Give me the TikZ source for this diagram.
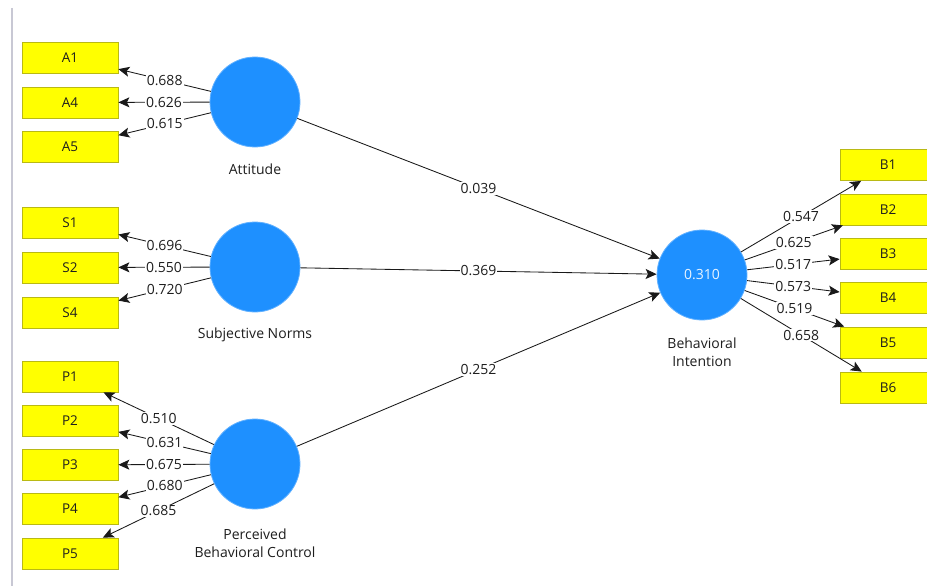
\documentclass[tikz,border=0pt]{standalone}
\usepackage{fontspec}
\setmainfont{Open Sans}
\usetikzlibrary{arrows.meta}
\definecolor{lvblue}{RGB}{30,144,255}
\definecolor{ind}{RGB}{255,255,0}
\definecolor{indborder}{RGB}{185,185,20}
\definecolor{txt}{RGB}{30,30,30}
\definecolor{edge}{RGB}{25,25,25}
\definecolor{sideline}{RGB}{200,200,212}
\begin{document}
\begin{tikzpicture}[x=1pt,y=-1pt,
  indbox/.style={draw=indborder,fill=ind,line width=0.8pt,minimum width=96pt,minimum height=31pt,inner sep=0pt,text=txt,font=\fontsize{13.5}{15}\selectfont},
  latent/.style={circle,fill=lvblue,draw=lvblue!70!white,line width=0.8pt,minimum size=90pt,inner sep=0pt,text=white!90!lvblue,font=\fontsize{14}{15}\selectfont},
  lvlabel/.style={text=txt,font=\fontsize{14}{18}\selectfont,align=center,inner sep=0pt},
  path/.style={draw=edge,line width=0.85pt,-{Stealth[length=11pt,width=10pt,inset=2.5pt]}},
  coef/.style={midway,fill=white,inner sep=1pt,text=txt,font=\fontsize{14}{15}\selectfont}
]
\useasboundingbox (0,0) rectangle (927,586);
\fill[white] (0,0) rectangle (927,586);
\draw[sideline,line width=2pt] (12,8) -- (12,586);

% indicators left
\node[indbox] (A1) at (70,57.5) {A1};
\node[indbox] (A4) at (70,102.5) {A4};
\node[indbox] (A5) at (70,147) {A5};
\node[indbox] (S1) at (70,223) {S1};
\node[indbox] (S2) at (70,267.5) {S2};
\node[indbox] (S4) at (70,312.5) {S4};
\node[indbox] (P1) at (70,376.5) {P1};
\node[indbox] (P2) at (70,420.5) {P2};
\node[indbox] (P3) at (70,465) {P3};
\node[indbox] (P4) at (70,509) {P4};
\node[indbox] (P5) at (70,553.5) {P5};
% indicators right
\node[indbox] (B1) at (888,165) {B1};
\node[indbox] (B2) at (888,209.5) {B2};
\node[indbox] (B3) at (888,253.5) {B3};
\node[indbox] (B4) at (888,298) {B4};
\node[indbox] (B5) at (888,342.5) {B5};
\node[indbox] (B6) at (888,387.5) {B6};

% latent variables
\node[latent] (att) at (255,102) {};
\node[latent] (sn) at (255,267) {};
\node[latent] (pbc) at (255,464) {};
\node[latent] (bi) at (702,275) {0.310};

\node[lvlabel] (attl) at (255,169) {Attitude};
\node[lvlabel] (snl) at (255,335) {Subjective Norms};
\node[lvlabel] (pbcl) at (255,543) {Perceived\\Behavioral Control};
\node[lvlabel] (bil) at (702,352) {Behavioral\\Intention};

% outer loadings
\draw[path] (att) -- (A1) node[coef] {0.688};
\draw[path] (att) -- (A4) node[coef] {0.626};
\draw[path] (att) -- (A5) node[coef] {0.615};
\draw[path] (sn) -- (S1) node[coef] {0.696};
\draw[path] (sn) -- (S2) node[coef] {0.550};
\draw[path] (sn) -- (S4) node[coef] {0.720};
\draw[path] (pbc) -- (P1) node[coef] {0.510};
\draw[path] (pbc) -- (P2) node[coef] {0.631};
\draw[path] (pbc) -- (P3) node[coef] {0.675};
\draw[path] (pbc) -- (P4) node[coef] {0.680};
\draw[path] (pbc) -- (P5) node[coef] {0.685};
\draw[path] (bi) -- (B1) node[coef] {0.547};
\draw[path] (bi) -- (B2) node[coef] {0.625};
\draw[path] (bi) -- (B3) node[coef] {0.517};
\draw[path] (bi) -- (B4) node[coef] {0.573};
\draw[path] (bi) -- (B5) node[coef] {0.519};
\draw[path] (bi) -- (B6) node[coef] {0.658};

% structural paths
\draw[path] (att) -- (bi) node[coef] {0.039};
\draw[path] (sn) -- (bi) node[coef] {0.369};
\draw[path] (pbc) -- (bi) node[coef] {0.252};
\end{tikzpicture}
\end{document}
